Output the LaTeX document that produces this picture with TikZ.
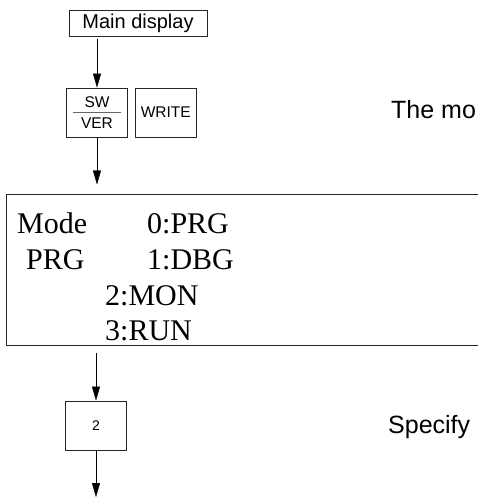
\documentclass[tikz,border=0pt]{standalone}
\usepackage{fontspec}
\setmainfont{Liberation Serif}
\setsansfont{Liberation Sans}
\usetikzlibrary{arrows.meta,positioning}

\begin{document}
\begin{tikzpicture}[x=1pt, y=-1pt, >={Triangle[length=14pt,width=8pt]},
	   k/.style={draw=black!85, line width=0.8pt, inner sep=0pt, align=center,
	     minimum width=61pt, minimum height=49pt, font=\sffamily\fontsize{15.5}{11}\selectfont},
	   t/.style={anchor=base west, inner sep=0pt, font=\fontsize{30}{36}\selectfont},
	   note/.style={anchor=base west, inner sep=0pt, font=\sffamily\fontsize{25}{30}\selectfont}]
	  \useasboundingbox (0,0) rectangle (478,497);
	  \node[k, minimum width=138pt, minimum height=26pt, font=\sffamily\fontsize{20}{24}\selectfont] (main) at (138,23) {Main display};
	  \node[k] (swver) at (97,112.5) {SW\\[-5.1pt]\textcolor{black!60}{\rule{48pt}{0.8pt}}\\[4.4pt]VER};
	  \node[k, right=7pt of swver] (write) {WRITE};
	  \node[note] (modenote) at (391,119) {The mo};
	  % display of the handheld
	  \node[draw=black!85, line width=1pt, minimum width=513pt, minimum height=151pt, inner sep=0pt] (lcd) at (263.4,269.5) {};
	  \node[t] (mode) at (17,233) {Mode};
	  \node[t] (prg) at (26,269) {PRG};
	  \foreach \n/\m/\x/\y in {0/PRG/147/233, 1/DBG/147/269, 2/MON/105/305, 3/RUN/105/340}
	    \node[t] (opt\n) at (\x,\y) {\n:\m};
	  \node[k, font=\sffamily\fontsize{14}{16}\selectfont] (key2) at (96,425.5) {2};
	  \node[note] (specnote) at (388,433) {Specify};
	  \coordinate (out) at (96,497);
	  \draw[->, shorten <=3pt] (main.south -| swver) -- (swver.north);
	  \draw[->, shorten >=9pt] (swver.south) -- (swver.south |- lcd.north);
	  \draw[->, shorten <=7pt] (lcd.south -| key2) -- (key2.north);
	  \draw[->] (key2.south) -- (out);
\end{tikzpicture}
\end{document}
